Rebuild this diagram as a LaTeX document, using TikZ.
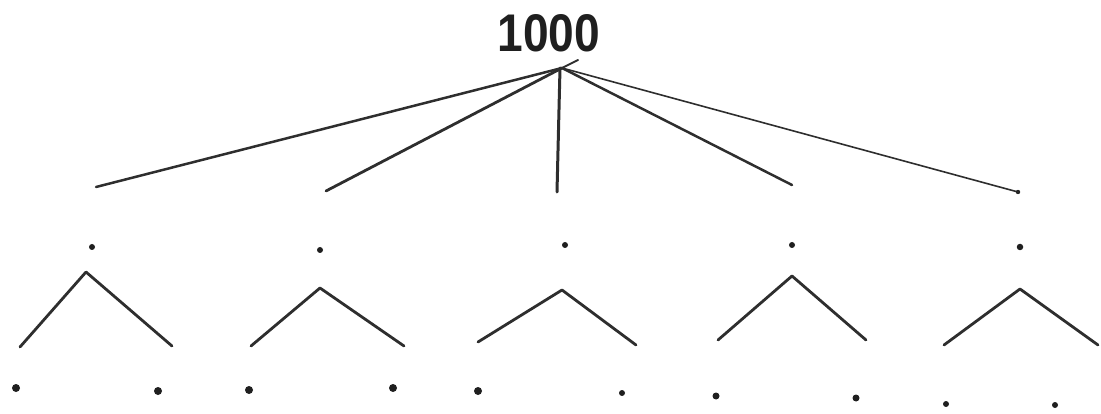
\documentclass[tikz,border=0pt]{standalone}
\usepackage{fontspec}
\newfontfamily\digitfont[FakeStretch=0.87]{Liberation Sans}
\tikzset{
  stroke/.style={draw=black!82, line width=2.8pt, line cap=round, line join=round},
  thinstroke/.style={draw=black!82, line width=1.6pt, line cap=round},
  dot/.style={circle, fill=black!88, inner sep=0pt, minimum size=8pt},
  smalldot/.style={circle, fill=black!88, inner sep=0pt, minimum size=6pt},
  label/.style={font=\digitfont\bfseries\fontsize{53}{60}\selectfont, text=black!88, inner sep=0pt, anchor=base}
}
\begin{document}
\begin{tikzpicture}[x=1pt,y=-1pt]
\useasboundingbox (0,0) rectangle (1101,414);
% root label
\node[label] (top) at (549,52) {1000};
\coordinate (r) at (562,68);
\coordinate (rt) at (578,60);
\draw[stroke, line width=2pt] (r) -- (rt);
% level 1 ends
\coordinate (a1) at (96,187);
\coordinate (a2) at (326,191);
\coordinate (a3) at (557,192);
\coordinate (a4) at (792,185);
\coordinate (a5) at (1018,192);
\draw[stroke, line width=2.5pt] (r) -- (a1);
\draw[stroke] (r) -- (a2);
\draw[stroke, line width=3pt] (560,68) -- (a3);
\draw[stroke, line width=2.5pt] (r) -- (a4);
\draw[thinstroke] (r) -- (a5);
\fill[black!85] (a5) circle (2.2pt);
% level 2 dots
\node[smalldot] (m1) at (92,247) {};
\node[smalldot] (m2) at (320,250) {};
\node[smalldot] (m3) at (565,245) {};
\node[smalldot] (m4) at (792,245) {};
\node[smalldot, minimum size=6.5pt] (m5) at (1020,247) {};
% carets
\coordinate (p1) at (86,272);  \coordinate (l1) at (20,347);  \coordinate (q1) at (172,346);
\coordinate (p2) at (320,288); \coordinate (l2) at (251,346); \coordinate (q2) at (404,346);
\coordinate (p3) at (562,290); \coordinate (l3) at (478,342); \coordinate (q3) at (636,345);
\coordinate (p4) at (792,276); \coordinate (l4) at (718,340); \coordinate (q4) at (866,340);
\coordinate (p5) at (1020,289);\coordinate (l5) at (944,345); \coordinate (q5) at (1098,345);
\foreach \i in {1,...,5}{
  \draw[stroke] (l\i) -- (p\i) -- (q\i);
}
% bottom dots
\node[dot] (b1) at (16,388) {};
\node[dot] (b2) at (158,391) {};
\node[dot] (b3) at (249,390) {};
\node[dot] (b4) at (393,388) {};
\node[dot] (b5) at (478,391) {};
\node[smalldot] (b6) at (622,393) {};
\node[dot, minimum size=7pt] (b7) at (716,396) {};
\node[dot, minimum size=7pt] (b8) at (856,398) {};
\node[smalldot] (b9) at (946,404) {};
\node[smalldot] (b10) at (1055,405) {};
\end{tikzpicture}
\end{document}
